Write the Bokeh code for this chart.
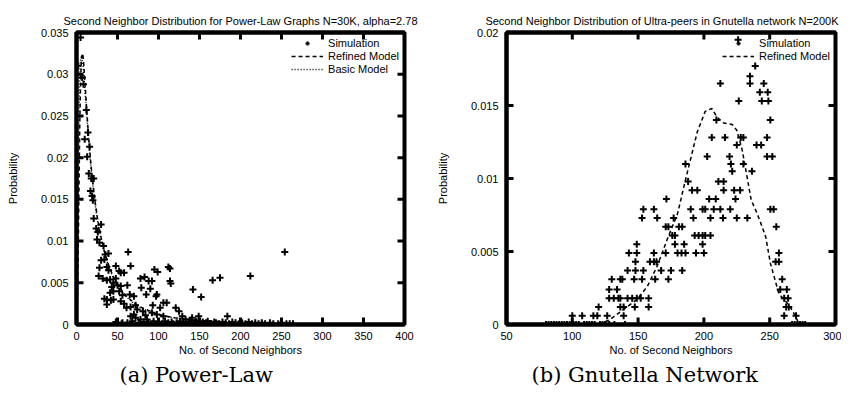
from bokeh.plotting import figure
from bokeh.models import (LinearAxis, FixedTicker, CustomJSTickFormatter,
                          Title, Range1d)
from bokeh.layouts import row
from bokeh.embed import file_html
from bokeh.resources import INLINE

# ---------------- data: (a) Power-Law ----------------
pl_xticks = [0, 50, 100, 150, 200, 250, 300, 350, 400]
pl_yticks = [0, 0.005, 0.01, 0.015, 0.02, 0.025, 0.03, 0.035]

pl_sim_x = [2, 5, 7, 8.5, 10, 12, 13, 14, 15, 16, 18, 21,
            17, 19, 20, 21, 24, 26, 30, 25, 28, 33, 35, 39, 30, 34, 28, 37, 39, 48, 52, 54, 58, 66, 63,
            27, 32, 37, 41, 45, 48, 50, 43, 54, 62, 45, 41, 52, 56, 65, 70, 34, 37, 42, 45, 37, 54, 58,
            61, 66, 72, 74, 78, 83, 88, 92, 79, 90, 85, 98, 97, 95, 99, 112, 114, 114, 115, 106, 110,
            102, 93, 81, 84, 70, 72, 66, 78, 86, 92, 98, 106, 121, 125, 129, 133, 141, 149, 142, 152,
            166, 175, 212, 254, 184, 48, 56, 68,
            100, 104, 108, 112, 116, 118, 122, 126, 130, 134, 138, 140, 144, 146, 150, 154, 158, 160,
            164, 168, 170, 174, 178, 182, 186, 190, 194, 198, 202, 206, 210, 214, 218, 222, 226, 230,
            236, 240, 246, 250, 256, 260, 264, 55, 62, 76, 82, 88, 94]
pl_sim_y = [0.031, 0.0344, 0.0296, 0.0288, 0.0222, 0.0257, 0.0201, 0.023, 0.0181, 0.0213, 0.0175, 0.0175,
            0.016, 0.0154, 0.0149, 0.0127, 0.0115, 0.0111, 0.012, 0.0102, 0.0098, 0.0094, 0.0084, 0.0085,
            0.0077, 0.0078, 0.0068, 0.0069, 0.0065, 0.007, 0.0064, 0.0062, 0.0062, 0.007, 0.0087,
            0.0058, 0.0055, 0.0053, 0.0054, 0.005, 0.0055, 0.0047, 0.0045, 0.0046, 0.0047, 0.004, 0.0038,
            0.004, 0.0035, 0.0036, 0.0034, 0.0031, 0.003, 0.0029, 0.003, 0.0024, 0.0028, 0.0025,
            0.002, 0.0021, 0.0023, 0.0018, 0.0055, 0.0057, 0.0052, 0.0052, 0.0044, 0.0043, 0.0036, 0.0036,
            0.0034, 0.0066, 0.0063, 0.0069, 0.0067, 0.0052, 0.0049, 0.0026, 0.0026,
            0.002, 0.0023, 0.0016, 0.0011, 0.0012, 0.0008, 0.001, 0.0006, 0.0006, 0.0014, 0.0012, 0.001,
            0.002, 0.0016, 0.001, 0.0006, 0.0008, 0.001, 0.0042, 0.0033,
            0.0053, 0.0056, 0.0058, 0.0087, 0.001, 0.0003, 0.0002, 0.0004,
            0.0003, 0.0001, 0.0004, 0.0002, 0.0003, 0.0001, 0.0002, 0.0004, 0.0002, 0.0003, 0.0001, 0.0005,
            0.0002, 0.0004, 0.0001, 0.0003, 0.0002, 0.0004, 0.0001, 0.0003, 0.0002, 0.0001, 0.0003, 0.0002,
            0.0001, 0.0003, 0.0002, 0.0001, 0.0002, 0.0001, 0.0003, 0.0001, 0.0002, 0.0001, 0.0002, 0.0001,
            0.0002, 0.0001, 0.0001, 0.0002, 0.0001, 0.0001, 0.0001, 0.0001, 0.0002, 0.0002, 0.0003, 0.0002,
            0.0004]

pl_refined_x = [0, 1, 2, 3, 4, 5, 6, 7, 8, 9, 10, 12, 14, 16, 18, 20, 23, 26, 30, 35, 40, 45, 50,
                60, 70, 80, 90, 100, 110, 120, 130, 140, 150, 170, 190, 210, 230, 250, 270]
pl_refined_y = [0, 0.002, 0.008, 0.016, 0.024, 0.029, 0.0318, 0.0325, 0.0322, 0.031, 0.0295, 0.0265,
                0.0235, 0.021, 0.0188, 0.017, 0.0145, 0.0125, 0.0104, 0.0084, 0.0069, 0.0057, 0.0047,
                0.0035, 0.0026, 0.002, 0.0016, 0.0012, 0.001, 0.0008, 0.0007, 0.0006, 0.0005, 0.0004,
                0.0003, 0.0002, 0.00015, 0.0001, 0.00005]

pl_basic_x = [0, 1, 2, 3, 4, 5, 6, 7, 8, 9, 10, 12, 14, 16, 18, 20, 23, 26, 30, 35, 40, 45, 50,
              60, 70, 80, 90, 100, 110, 120, 130, 140, 150, 170, 190, 210, 230, 250, 270]
pl_basic_y = [0, 0.006, 0.016, 0.025, 0.030, 0.0318, 0.0322, 0.0318, 0.031, 0.0298, 0.0285, 0.0258,
              0.023, 0.0205, 0.0184, 0.0166, 0.0142, 0.0122, 0.0102, 0.0082, 0.0067, 0.0056, 0.0046,
              0.0034, 0.0025, 0.0019, 0.0015, 0.0012, 0.0009, 0.0008, 0.0006, 0.0005, 0.0004, 0.0003,
              0.0002, 0.00015, 0.0001, 0.00005, 0.00002]

# ---------------- data: (b) Gnutella ----------------
gn_xticks = [50, 100, 150, 200, 250, 300]
gn_yticks = [0, 0.005, 0.01, 0.015, 0.02]

gn_sim_x = [226, 239, 235, 235, 245.5, 242.5, 248.5, 244, 249, 226.5, 212.5, 250.5, 209.5, 206, 216,
            228, 230, 248, 225, 240, 243.5, 248, 252, 202.5, 219.5, 220.5, 230, 186, 221.5, 236.5,
            188, 211, 215, 191, 195, 215, 223, 227.5, 171.5, 204, 209, 224,
            154, 162, 190, 199, 201, 207.5, 212.5, 220, 250.5, 253,
            153, 164.5, 177, 192, 205, 214.5, 225, 233,
            255, 171, 173, 181, 183.5,
            176, 178, 193, 196, 199, 201, 205,
            149, 178, 185, 199,
            143, 149, 162, 171, 180, 183, 186, 194, 200, 257,
            148, 159, 162, 164, 254.5, 257,
            142, 148, 154, 167.5, 175, 183.5,
            130, 136.5, 138, 147, 153, 163, 173, 259.5,
            128, 134, 258, 263,
            128, 131.5, 135, 136.5, 142, 145.5, 149, 152, 158, 261, 264,
            120, 136.5, 139, 147.5, 158, 262.5, 264.5,
            100, 107.5, 116, 119, 126.5, 139, 261, 270,
            80, 82, 84, 86, 88, 90, 92, 94, 96, 98, 101, 103, 105, 109, 111, 113, 115, 117, 121, 123,
            125, 128, 132, 140, 267, 269, 271, 273, 275, 277]
gn_sim_y = [0.0195, 0.0177, 0.017, 0.0165, 0.0165, 0.0159, 0.0159, 0.0153, 0.0153, 0.0153, 0.0165,
            0.014, 0.014, 0.0128, 0.0128, 0.0128, 0.0128, 0.0128, 0.0123, 0.0123, 0.0123, 0.0115,
            0.0115, 0.0115, 0.0115, 0.011, 0.011, 0.011, 0.0105, 0.0105,
            0.0098, 0.0098, 0.0098, 0.0092, 0.0092, 0.0092, 0.0092, 0.0092, 0.0086, 0.0086, 0.0086, 0.0086,
            0.0079, 0.0079, 0.0079, 0.0079, 0.0079, 0.0079, 0.0079, 0.0079, 0.0079, 0.0079,
            0.0073, 0.0073, 0.0073, 0.0073, 0.0073, 0.0073, 0.0073, 0.0073,
            0.0067, 0.0067, 0.0067, 0.0067, 0.0067,
            0.0061, 0.0061, 0.0061, 0.0061, 0.0061, 0.0061, 0.0061,
            0.0055, 0.0055, 0.0055, 0.0055,
            0.0049, 0.0049, 0.0049, 0.0049, 0.0049, 0.0049, 0.0049, 0.0049, 0.0049, 0.0049,
            0.0043, 0.0043, 0.0043, 0.0043, 0.0043, 0.0043,
            0.0037, 0.0037, 0.0037, 0.0037, 0.0037, 0.0037,
            0.0031, 0.0031, 0.0031, 0.0031, 0.0031, 0.0031, 0.0031, 0.0031,
            0.0024, 0.0024, 0.0024, 0.0024,
            0.0018, 0.0018, 0.0018, 0.0018, 0.0018, 0.0018, 0.0018, 0.0018, 0.0018, 0.0018, 0.0018,
            0.0012, 0.0012, 0.0012, 0.0012, 0.0012, 0.0012, 0.0012,
            0.0006, 0.0006, 0.0006, 0.0006, 0.0006, 0.0006, 0.0006, 0.0006,
            0, 0, 0, 0, 0, 0, 0, 0, 0, 0, 0, 0, 0, 0, 0, 0, 0, 0, 0, 0,
            0, 0, 0, 0, 0, 0, 0, 0, 0, 0]

gn_refined_x = [120, 128, 137, 149, 157, 164.5, 172, 180, 186, 195, 201, 206, 210, 215, 221.5, 225,
                229, 233, 236, 240, 243, 247, 250.5, 254.5, 257, 263, 267, 271, 272]
gn_refined_y = [0, 0.0003, 0.0009, 0.0017, 0.0026, 0.004, 0.0058, 0.0076, 0.0099, 0.0132, 0.0146,
                0.0148, 0.0142, 0.0138, 0.0137, 0.0133, 0.012, 0.01, 0.0085, 0.0077, 0.007, 0.006,
                0.0042, 0.0029, 0.0021, 0.0015, 0.0010, 0.0003, 0]

FONT = "Liberation Sans"
SERIF = "DejaVu Serif"

fmt = CustomJSTickFormatter(code="return parseFloat(tick.toPrecision(6)).toString();")
blank = CustomJSTickFormatter(code="return '';")


def make(title, title_align, title_offset, caption, cap_offset, xticks, yticks,
         border_left, border_right, fw):
    xr = (xticks[0], xticks[-1])
    yr = (yticks[0], yticks[-1])
    p = figure(output_backend="svg", toolbar_location=None,
               frame_width=fw, frame_height=292,
               min_border_left=border_left, min_border_right=border_right,
               min_border_top=32, min_border_bottom=50,
               x_range=Range1d(*xr), y_range=Range1d(*yr),
               x_axis_label="No. of Second Neighbors", y_axis_label="Probability")
    p.title.text = title
    p.title.text_font = FONT
    p.title.text_font_size = "11px"
    p.title.text_font_style = "normal"
    p.title.text_color = "black"
    p.title.align = title_align
    p.title.offset = title_offset
    p.title.vertical_align = "middle"
    p.title.standoff = 10
    p.grid.visible = False
    p.outline_line_color = "black"
    p.outline_line_width = 4
    p.outline_line_alpha = 1
    p.background_fill_color = "white"
    p.border_fill_color = "white"
    for ax, t in ((p.xaxis[0], xticks), (p.yaxis[0], yticks)):
        ax.ticker = FixedTicker(ticks=t)
        ax.axis_line_color = "black"
        ax.axis_line_width = 4
        ax.major_tick_in = 0
        ax.major_tick_out = 0
        ax.minor_tick_line_color = None
        ax.major_label_text_font = FONT
        ax.major_label_text_font_size = "11px"
        ax.major_label_text_color = "black"
        ax.axis_label_text_font = FONT
        ax.axis_label_text_font_size = "11px"
        ax.axis_label_text_font_style = "normal"
        ax.axis_label_text_color = "black"
    p.yaxis[0].formatter = fmt
    p.yaxis[0].major_label_standoff = 8
    p.xaxis[0].major_label_standoff = 7
    p.yaxis[0].axis_label_standoff = 19
    p.xaxis[0].axis_label_standoff = 1
    top = LinearAxis(ticker=FixedTicker(ticks=xticks), formatter=blank, axis_line_color="black",
                     axis_line_width=4, major_tick_in=0, major_tick_out=0,
                     minor_tick_line_color=None, major_label_standoff=0)
    p.add_layout(top, "above")
    # inward tick marks on all four sides (clipped to the frame, so only the inner half shows)
    nx, ny = len(xticks), len(yticks)
    for yy in yr:
        p.rect(x=xticks, y=[yy] * nx, width=3, height=14, width_units="screen",
               height_units="screen", color="black", line_width=0)
    for xx in xr:
        p.rect(x=[xx] * ny, y=yticks, width=14, height=3, width_units="screen",
               height_units="screen", color="black", line_width=0)
    cap = Title(text=caption, text_font=SERIF, text_font_size="21px", text_font_style="normal",
                text_color="black", align="left", offset=cap_offset, standoff=4)
    p.add_layout(cap, "below")
    return p


p1 = make("Second Neighbor Distribution for Power-Law Graphs N=30K, alpha=2.78", "center", 0,
          "(a) Power-Law", 43, pl_xticks, pl_yticks, 76, 22, 328)
p1.scatter(pl_sim_x, pl_sim_y, marker="cross", size=7, line_width=2, color="black",
           legend_label="Simulation")
p1.line(pl_refined_x, pl_refined_y, line_dash="4 3", line_width=1.5, color="black",
        legend_label="Refined Model")
p1.line(pl_basic_x, pl_basic_y, line_dash="1 2", line_width=1.5, color="black",
        legend_label="Basic Model")

p2 = make("Second Neighbor Distribution of Ultra-peers in Gnutella network N=200K", "right", -3,
          "(b) Gnutella Network", 25, gn_xticks, gn_yticks, 80, 6, 329)
p2.scatter(gn_sim_x, gn_sim_y, marker="cross", size=7, line_width=2, color="black",
           legend_label="Simulation")
p2.line(gn_refined_x, gn_refined_y, line_dash="4 3", line_width=1.5, color="black",
        legend_label="Refined Model")

for p in (p1, p2):
    lg = p.legend[0]
    lg.location = "top_right"
    lg.border_line_color = None
    lg.background_fill_alpha = 0
    lg.label_text_font = FONT
    lg.label_text_font_size = "11px"
    lg.label_text_color = "black"
    lg.glyph_width = 32
    lg.glyph_height = 10
    lg.label_height = 10
    lg.spacing = 1
    lg.padding = 4
    lg.margin = 5

layout = row(p1, p2)
open("out.html", "w").write(file_html(layout, INLINE))
